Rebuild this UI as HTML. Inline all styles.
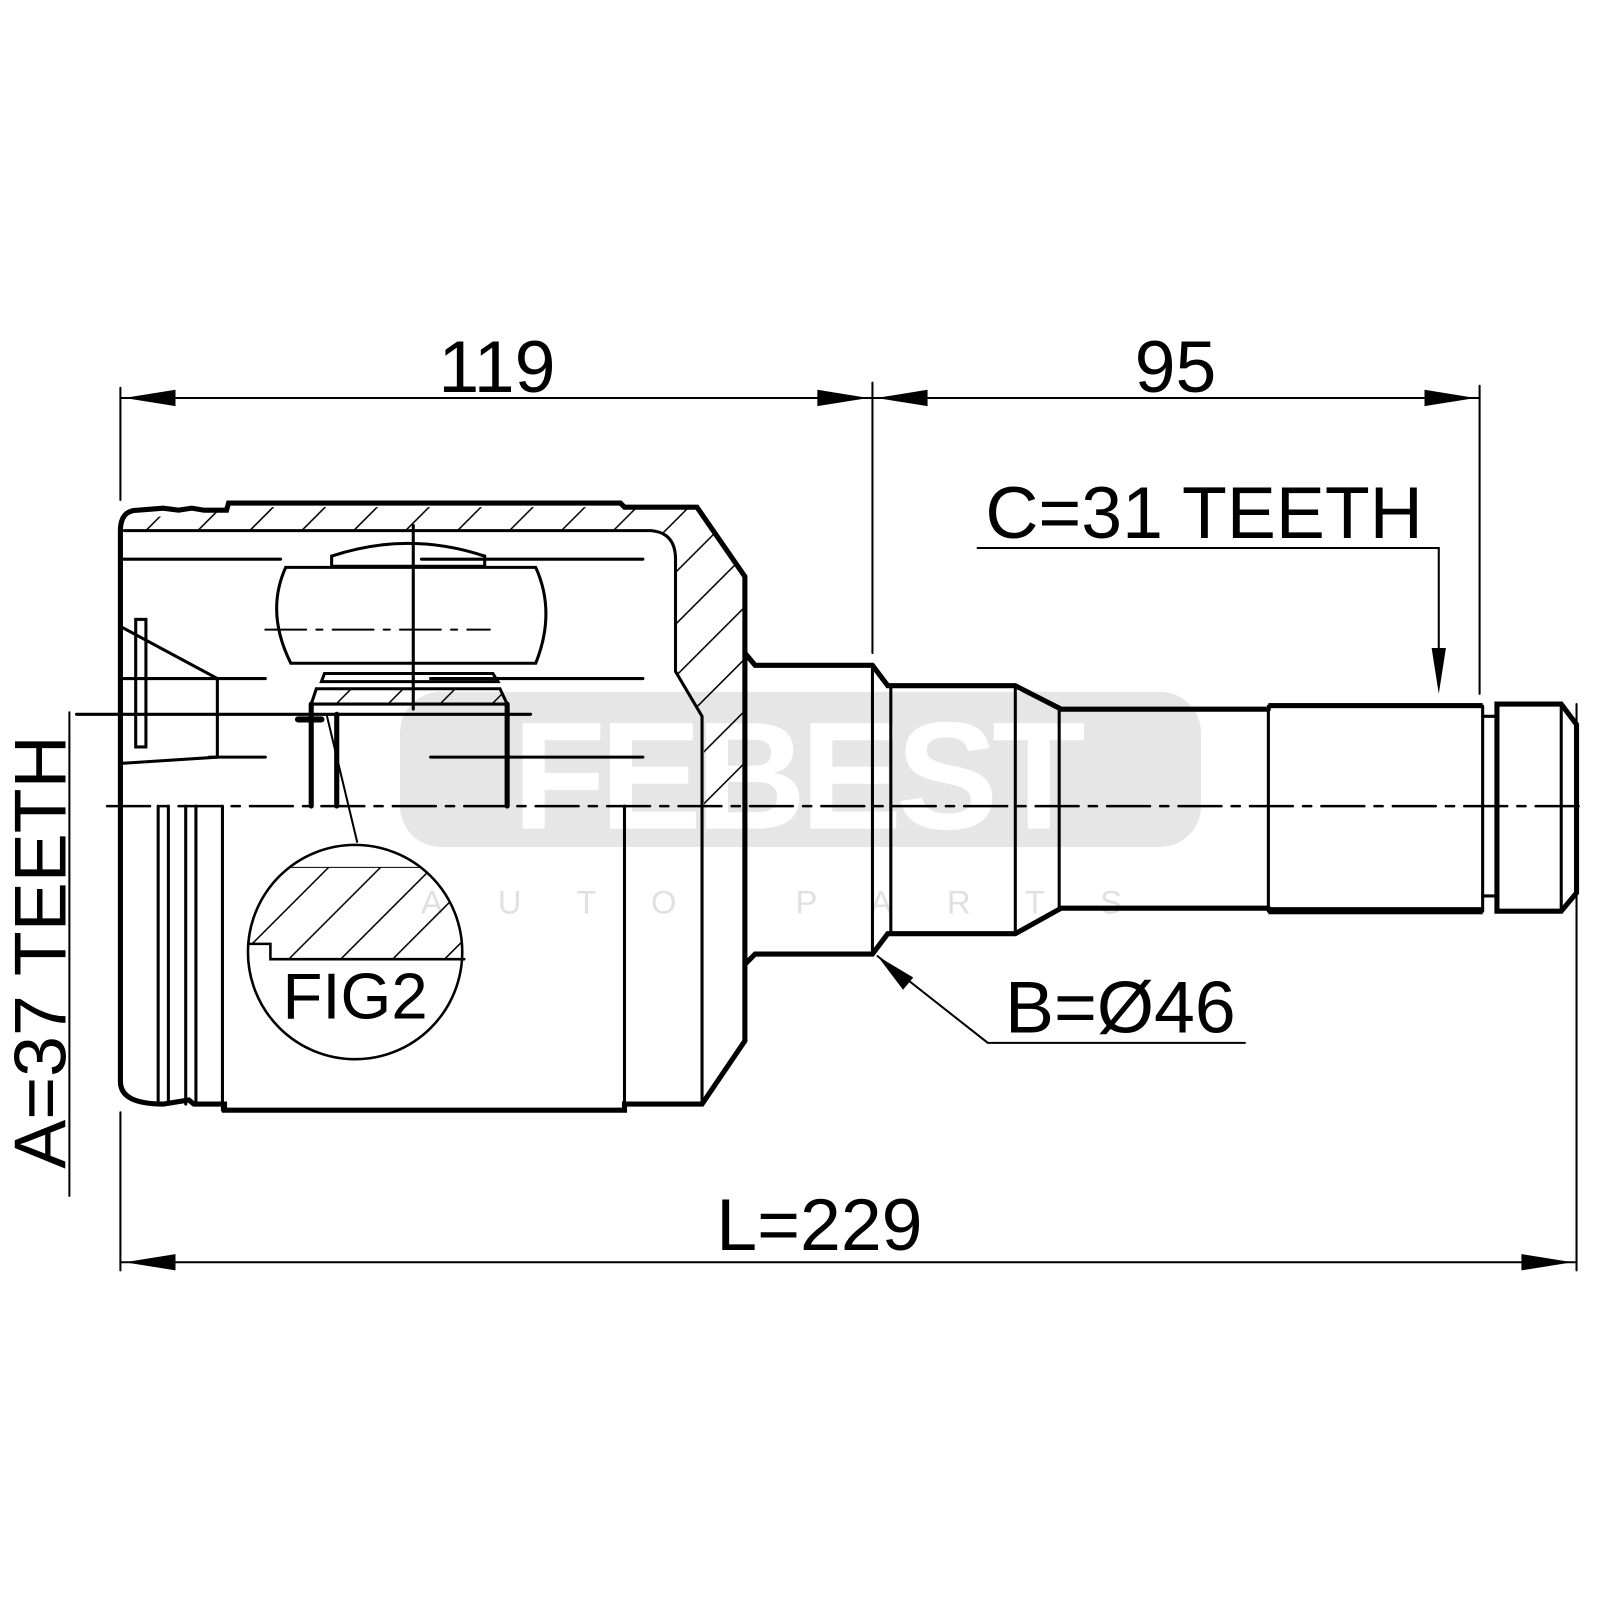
<!DOCTYPE html>
<html><head><style>html,body{margin:0;padding:0;background:#fff}</style></head><body>
<svg width="1600" height="1600" viewBox="0 0 1568 1568" xmlns="http://www.w3.org/2000/svg" font-family="Liberation Sans, sans-serif">
<defs>
<pattern id="h" patternUnits="userSpaceOnUse" width="36" height="36" patternTransform="rotate(45)"><line x1="0" y1="0" x2="0" y2="36" stroke="#000" stroke-width="3"/></pattern>
<clipPath id="cc"><circle cx="348" cy="933" r="105"/></clipPath>
</defs>
<!-- watermark -->
<rect x="392" y="678" width="785" height="152" rx="40" fill="#e6e6e6"/>
<text x="780" y="812" font-size="150" font-weight="bold" fill="#fff" text-anchor="middle" letter-spacing="-6">FEBEST</text>
<text x="783" y="895" font-size="32" fill="#e0e0e0" text-anchor="middle" letter-spacing="54">AUTO PARTS</text>

<g stroke="#000" fill="none" stroke-linecap="round">
<path d="M118,520 Q118,500 135,500 L160,498 L175,500 L188,498 L200,500 L222,500 L224,493 L608,493 L612,497 L683,497 L730,565 L730,1020 L688,1082 L612,1082 L612,1088 L220,1088 L220,1082 L190,1082 L185,1078 L160,1082 Q118,1082 118,1060 Z" stroke-width="5"/>
<path d="M125,520 L640,520 Q662,520 662,545 L662,660 L690,705 L690,790 L730,790 L730,565 L683,497 L224,497 L205,503 L130,508 Z" fill="url(#h)" stroke="none"/>
<path d="M122,520 L638,520 Q662,522 662,548 L662,658 L688,702 L688,792" stroke-width="3"/>
<line x1="120" y1="548" x2="275" y2="548" stroke-width="3"/>
<line x1="413" y1="548" x2="630" y2="548" stroke-width="3"/>
<line x1="120" y1="665" x2="260" y2="665" stroke-width="3"/>
<line x1="422" y1="665" x2="630" y2="665" stroke-width="3"/>
<line x1="205" y1="742" x2="260" y2="742" stroke-width="3"/>
<line x1="422" y1="742" x2="630" y2="742" stroke-width="3"/>
<path d="M325,545 Q400,520 475,545 L475,555 L325,555 Z" stroke-width="3"/>
<path d="M280,556 L525,556 Q545,600 525,650 L285,650 Q260,600 280,556 Z" stroke-width="3"/>
<path d="M315,668 L318,660 L483,660 L488,668 Z" stroke-width="3"/>
<path d="M305,690 L310,675 L490,675 L497,690 Z" fill="url(#h)" stroke-width="3"/>
<line x1="260" y1="617" x2="480" y2="617" stroke-width="2" stroke-dasharray="40,10,6,10"/>
<line x1="405" y1="515" x2="405" y2="695" stroke-width="3"/>
<path d="M305,690 L305,790 M330,700 L330,790 M497,690 L497,790" stroke-width="5"/>
<line x1="75" y1="700" x2="520" y2="700" stroke-width="3"/>
<line x1="292" y1="705" x2="315" y2="705" stroke-width="6"/>
<rect x="133" y="607" width="10" height="125" stroke-width="3"/>
<path d="M120,615 L213,665 L213,742 L120,748" stroke-width="3"/>
<path d="M155,790 L155,1082 M165,790 L165,1082 M182,790 L182,1082 M192,790 L192,1082 M218,790 L218,1088" stroke-width="3"/>
<line x1="612" y1="790" x2="612" y2="1082" stroke-width="3"/>
<line x1="688" y1="790" x2="688" y2="1082" stroke-width="3"/>
<line x1="320" y1="700" x2="350" y2="825" stroke-width="2"/>
<g clip-path="url(#cc)"><path d="M240,850 L460,850 L460,940 L265,940 L265,925 L240,925 Z" fill="url(#h)"/></g>
<circle cx="348" cy="933" r="105" stroke-width="2.5"/>
<path d="M245,925 L265,925 L265,940 L455,940" stroke-width="2.5"/>
<path d="M730,640 L740,652 L855,652 L870,672 L995,672 L1040,695 L1243,695" stroke-width="5"/>
<path d="M730,945 L740,935 L855,935 L870,915 L995,915 L1040,890 L1243,890" stroke-width="5"/>
<rect x="1243" y="689" width="210" height="5" fill="#000" stroke="none"/>
<rect x="1243" y="889" width="210" height="7" fill="#000" stroke="none"/>
<path d="M1243,692 L1243,893 M1453,692 L1453,893" stroke-width="3"/>
<path d="M1453,702 L1467,702 M1453,878 L1467,878" stroke-width="3"/>
<path d="M1467,690 L1530,690 L1545,710 L1545,875 L1530,893 L1467,893 Z" stroke-width="5"/>
<line x1="1530" y1="690" x2="1530" y2="893" stroke-width="3"/>
<path d="M855,652 L855,935 M873,672 L873,915 M995,672 L995,915 M1038,695 L1038,890" stroke-width="3"/>
<line x1="105" y1="790" x2="1555" y2="790" stroke-width="2.5" stroke-dasharray="42,10,8,10"/>
<line x1="118" y1="380" x2="118" y2="490" stroke-width="2"/>
<line x1="855" y1="375" x2="855" y2="640" stroke-width="2"/>
<line x1="1450" y1="378" x2="1450" y2="680" stroke-width="2"/>
<line x1="118" y1="390" x2="1450" y2="390" stroke-width="2"/>
<line x1="118" y1="1090" x2="118" y2="1245" stroke-width="2"/>
<line x1="1545" y1="690" x2="1545" y2="1245" stroke-width="2"/>
<line x1="118" y1="1237" x2="1545" y2="1237" stroke-width="2"/>
<line x1="68" y1="698" x2="68" y2="1172" stroke-width="2"/>
<path d="M958,537 L1410,537 L1410,672" stroke-width="2"/>
<path d="M860,937 L968,1022 L1220,1022" stroke-width="2"/>
</g>
<g fill="#000">
<polygon points="122,390 172,382 172,398"/>
<polygon points="851,390 801,382 801,398"/>
<polygon points="859,390 909,382 909,398"/>
<polygon points="1446,390 1396,382 1396,398"/>
<polygon points="122,1237 172,1229 172,1245"/>
<polygon points="1541,1237 1491,1229 1491,1245"/>
<polygon points="1410,680 1403,635 1417,635"/>
<polygon points="860,937 895,958 885,970"/>
</g>
<g font-size="72" fill="#000">
<text x="487" y="384" text-anchor="middle">119</text>
<text x="1152" y="384" text-anchor="middle">95</text>
<text x="1180" y="527" text-anchor="middle">C=31 TEETH</text>
<text x="1098" y="1012" text-anchor="middle">B=Ø46</text>
<text x="803" y="1225" text-anchor="middle">L=229</text>
<text x="348" y="998" text-anchor="middle" font-size="64">FIG2</text>
<text transform="translate(64,933) rotate(-90)" text-anchor="middle">A=37 TEETH</text>
</g>
</svg>
</body></html>
